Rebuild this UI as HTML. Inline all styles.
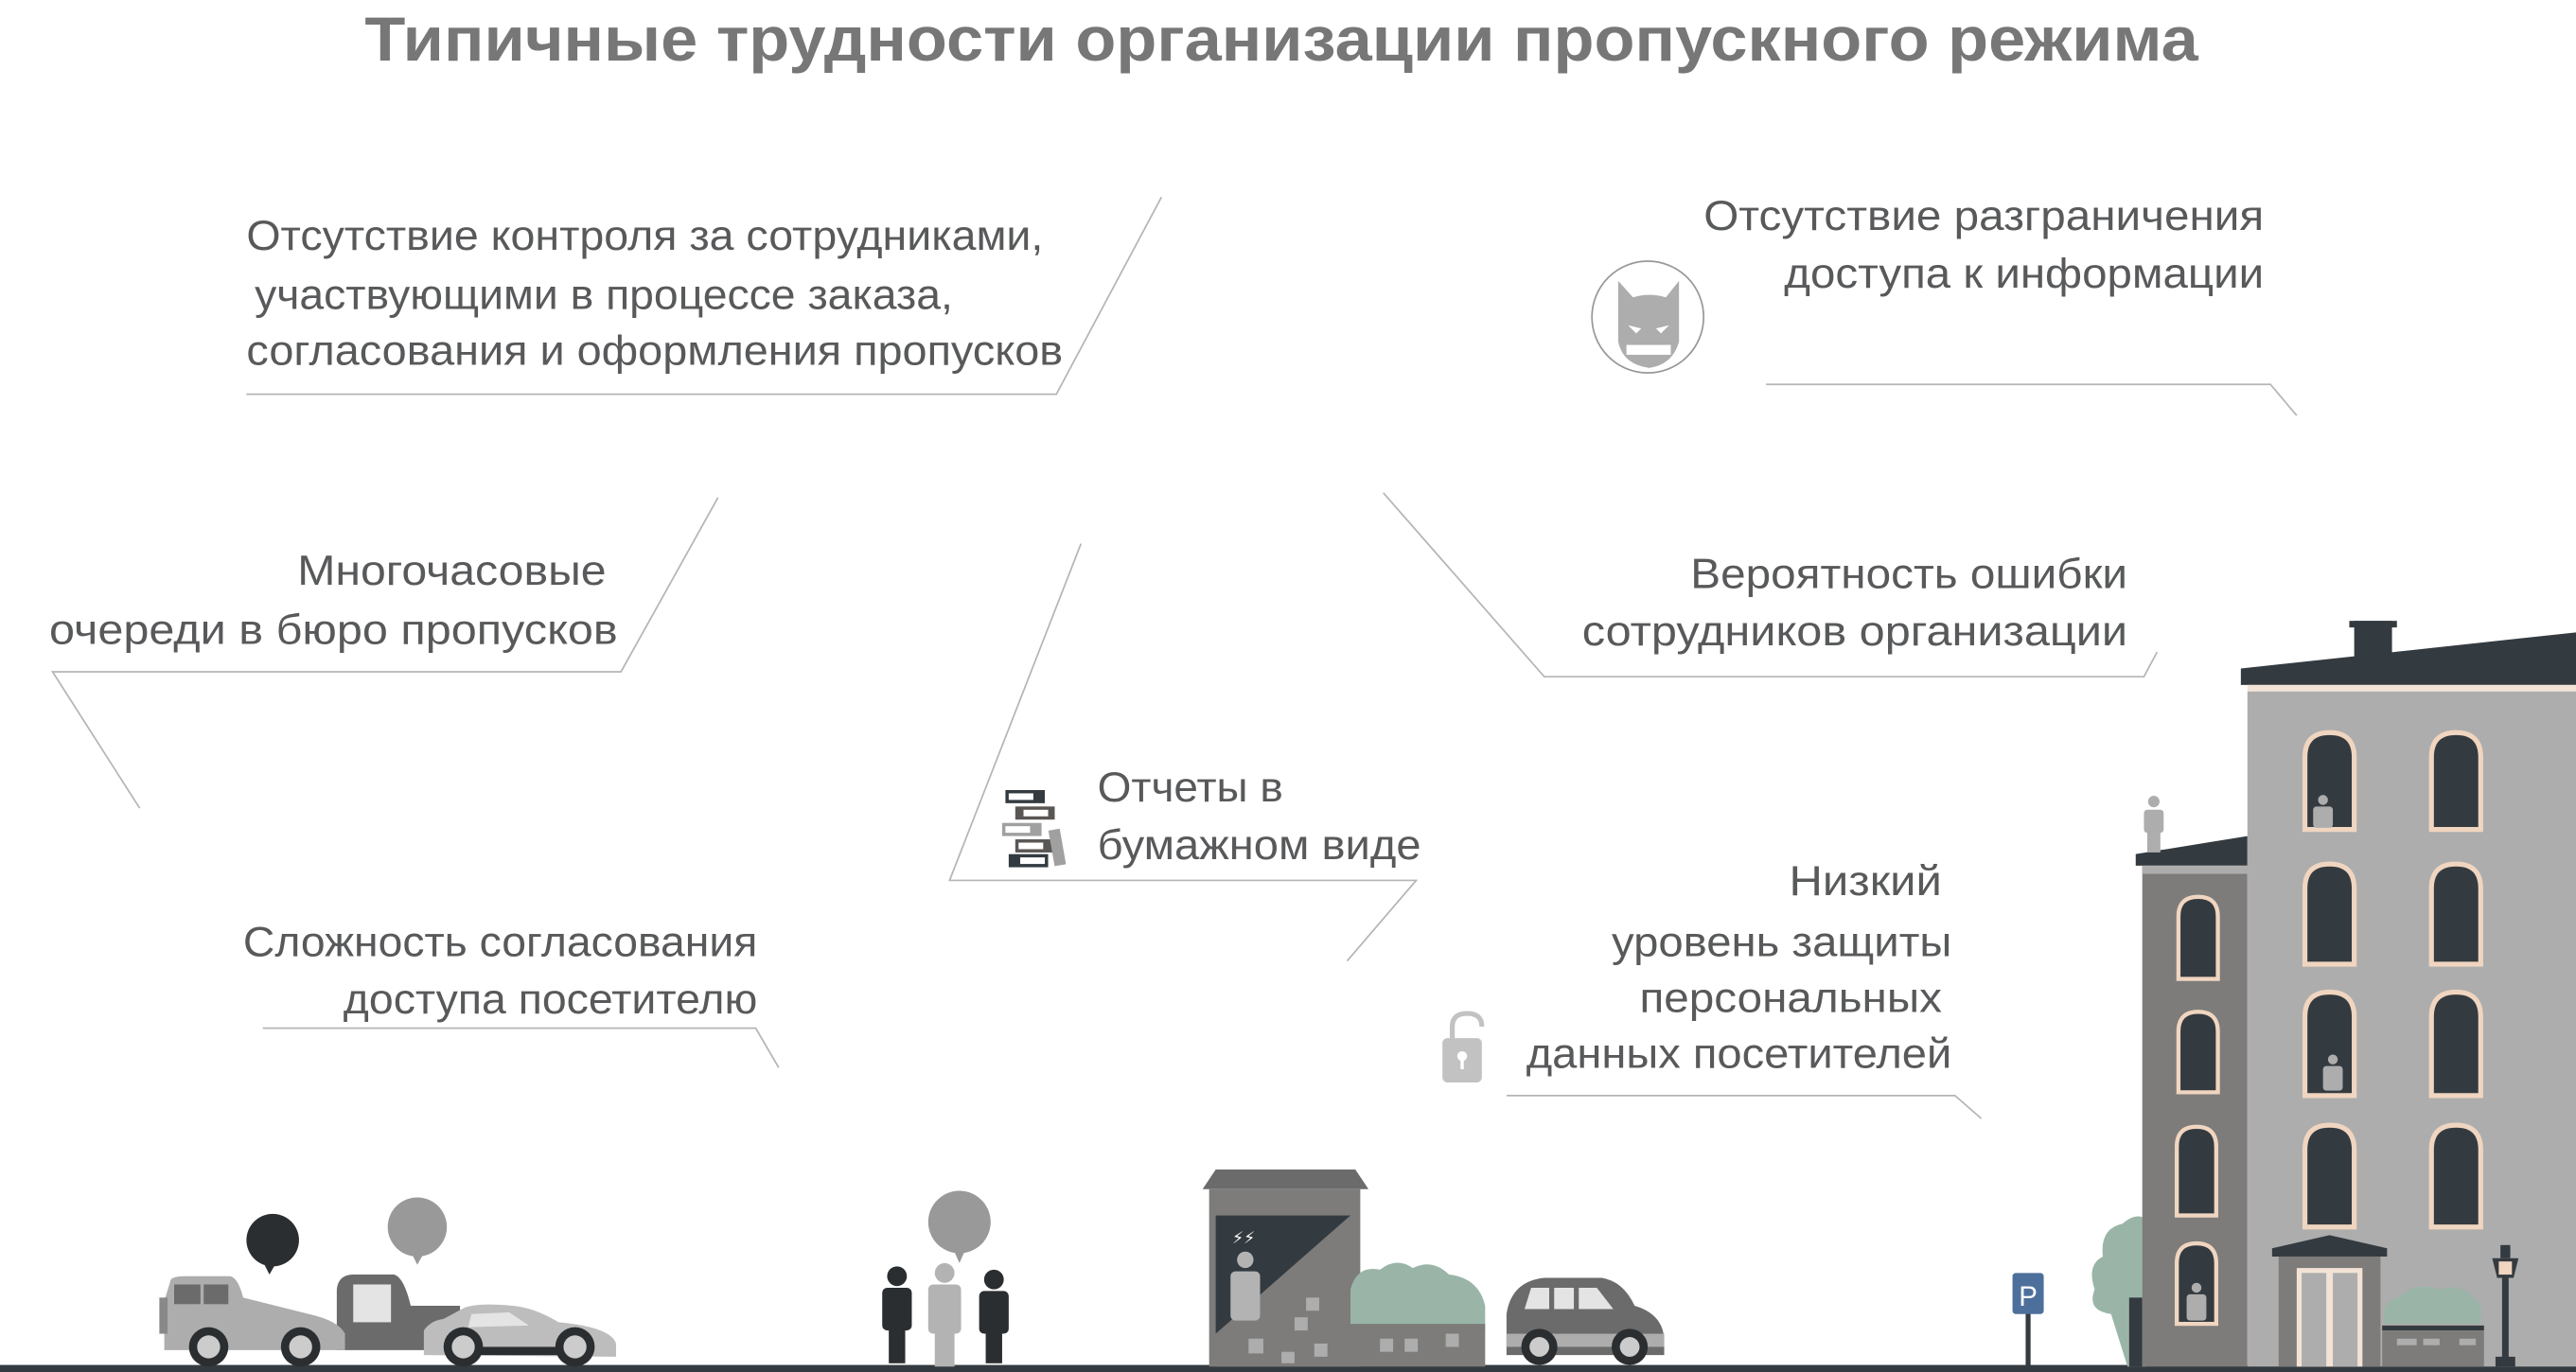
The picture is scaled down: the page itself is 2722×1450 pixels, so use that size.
<!DOCTYPE html>
<html><head><meta charset="utf-8"><style>
html,body{margin:0;padding:0;background:#fff;width:2722px;height:1450px;overflow:hidden}
svg{display:block}
text{font-family:"Liberation Sans","DejaVu Sans",sans-serif;fill:#58595b;font-size:25.5px}
</style></head><body>
<svg width="2722" height="1450" viewBox="0 0 1568 835.3" preserveAspectRatio="none" xmlns="http://www.w3.org/2000/svg">
<rect width="1568" height="836" fill="#fff"/>
<text x="222" y="37" textLength="1116" lengthAdjust="spacingAndGlyphs" style="font-size:38px;font-weight:bold;fill:#777">Типичные трудности организации пропускного режима</text>

<g fill="none" stroke="#b5b5b5" stroke-width="1">
<polyline points="707,120 643,240 150,240"/>
<polyline points="1075,234 1382,234 1398,253"/>
<polyline points="437,303 378,409 32,409 85,492"/>
<polyline points="842,300 940,412 1305,412 1313,397"/>
<polyline points="658,331 578,536 862,536 820,585"/>
<polyline points="160,626 460,626 474,650"/>
<polyline points="917,667 1190,667 1206,681"/>
</g>

<text x="150" y="152" textLength="485" lengthAdjust="spacingAndGlyphs">Отсутствие контроля за сотрудниками,</text>
<text x="155" y="188" textLength="425" lengthAdjust="spacingAndGlyphs">участвующими в процессе заказа,</text>
<text x="150" y="222" textLength="497" lengthAdjust="spacingAndGlyphs">согласования и оформления пропусков</text>

<text x="1037" y="140" textLength="341" lengthAdjust="spacingAndGlyphs">Отсутствие разграничения</text>
<text x="1086" y="175" textLength="292" lengthAdjust="spacingAndGlyphs">доступа к информации</text>

<text x="181" y="356" textLength="188" lengthAdjust="spacingAndGlyphs">Многочасовые</text>
<text x="30" y="392" textLength="346" lengthAdjust="spacingAndGlyphs">очереди в бюро пропусков</text>

<text x="1029" y="358" textLength="266" lengthAdjust="spacingAndGlyphs">Вероятность ошибки</text>
<text x="963" y="393" textLength="332" lengthAdjust="spacingAndGlyphs">сотрудников организации</text>

<text x="668" y="488" textLength="113" lengthAdjust="spacingAndGlyphs">Отчеты в</text>
<text x="668" y="523" textLength="197" lengthAdjust="spacingAndGlyphs">бумажном виде</text>

<text x="148" y="582" textLength="313" lengthAdjust="spacingAndGlyphs">Сложность согласования</text>
<text x="209" y="617" textLength="252" lengthAdjust="spacingAndGlyphs">доступа посетителю</text>

<text x="1089" y="545" textLength="93" lengthAdjust="spacingAndGlyphs">Низкий</text>
<text x="981" y="582" textLength="207" lengthAdjust="spacingAndGlyphs">уровень защиты</text>
<text x="998" y="616" textLength="184" lengthAdjust="spacingAndGlyphs">персональных</text>
<text x="929" y="650" textLength="259" lengthAdjust="spacingAndGlyphs">данных посетителей</text>

<!-- batman icon -->
<circle cx="1003" cy="193" r="34" fill="none" stroke="#999" stroke-width="1"/>
<path d="M985,171 L994,181 Q1004,178 1014,181 L1022,171 L1022,208 Q1018,222 1004,224 Q988,222 985,208 Z" fill="#adadad"/>
<path d="M991,198 L999,200 L996,203 Z M1016,198 L1008,200 L1011,203 Z" fill="#fff"/>
<rect x="990" y="210" width="27" height="6" fill="#fff"/>

<!-- binders -->
<g>
<rect x="612" y="481" width="24" height="8" fill="#343b40"/><rect x="614" y="483" width="15" height="4" fill="#fff"/>
<rect x="618" y="491" width="24" height="8" fill="#5a5654"/><rect x="623" y="493" width="15" height="4" fill="#fff"/>
<rect x="610" y="501" width="24" height="8" fill="#a0a0a0"/><rect x="612" y="503" width="15" height="4" fill="#fff"/>
<rect x="618" y="511" width="24" height="8" fill="#5a5654"/><rect x="620" y="513" width="15" height="4" fill="#fff"/>
<rect x="614" y="520" width="24" height="8" fill="#343b40"/><rect x="621" y="522" width="15" height="4" fill="#fff"/>
<rect x="640" y="505" width="7" height="22" fill="#a0a0a0" transform="rotate(-10 643 516)"/>
</g>

<!-- lock -->
<path d="M884,632 L884,625 Q884,617 893,617 Q902,617 902,625" fill="none" stroke="#c2c2c2" stroke-width="3"/>
<rect x="878" y="632" width="24" height="27" rx="3" fill="#c2c2c2"/>
<circle cx="890" cy="643" r="3" fill="#fff"/><rect x="889" y="644" width="2" height="7" fill="#fff"/>

<!-- ground -->
<rect x="0" y="831" width="1568" height="5" fill="#343b40"/>

<!-- cars left -->
<circle cx="166" cy="755" r="16" fill="#2b2e30"/><path d="M160,768 L164,776 L168,769Z" fill="#2b2e30"/>
<circle cx="254" cy="747" r="18" fill="#999"/><path d="M250,762 L254,770 L258,763Z" fill="#999"/>
<path d="M205,822 L205,785 Q206,776 215,776 L240,776 Q246,778 250,795 L280,795 L280,822Z" fill="#6b6b6b"/>
<rect x="215" y="782" width="23" height="23" fill="#e4e4e4"/>
<path d="M100,822 L100,792 L104,779 Q106,777 112,777 L140,777 Q145,778 148,790 L188,800 Q206,804 210,812 L210,822Z" fill="#adadad"/>
<rect x="106" y="782" width="16" height="12" fill="#6b6b6b"/><rect x="124" y="782" width="15" height="12" fill="#6b6b6b"/>
<rect x="97" y="790" width="5" height="22" fill="#888"/>
<circle cx="127" cy="820" r="12" fill="#2b2e30"/><circle cx="127" cy="820" r="7" fill="#ccc"/>
<circle cx="183" cy="820" r="12" fill="#2b2e30"/><circle cx="183" cy="820" r="7" fill="#ccc"/>
<path d="M258,825 L258,810 Q262,804 270,803 L283,796 Q292,793 312,795 Q325,796 340,805 Q372,808 375,818 L375,826Z" fill="#bdbdbd"/>
<path d="M287,800 L310,799 L322,807 L285,808Z" fill="#e4e4e4"/>
<rect x="280" y="820" width="75" height="5" fill="#2b2e30"/>
<circle cx="282" cy="820" r="12" fill="#2b2e30"/><circle cx="282" cy="820" r="7" fill="#ccc"/>
<circle cx="350" cy="820" r="12" fill="#2b2e30"/><circle cx="350" cy="820" r="7" fill="#ccc"/>

<!-- people -->
<circle cx="584" cy="744" r="19" fill="#999"/><path d="M580,760 L584,769 L588,760Z" fill="#999"/>
<g fill="#2b2e30">
<circle cx="546" cy="777" r="6"/><rect x="537" y="784" width="18" height="26" rx="3"/><rect x="541" y="808" width="10" height="22"/>
<circle cx="605" cy="779" r="6"/><rect x="596" y="786" width="18" height="26" rx="3"/><rect x="600" y="810" width="10" height="20"/>
</g>
<g fill="#b3b3b3"><circle cx="575" cy="775" r="6"/><rect x="565" y="782" width="20" height="30" rx="3"/><rect x="569" y="810" width="12" height="22"/></g>

<!-- booth -->
<path d="M732,724 L740,712 L825,712 L833,724Z" fill="#6b6b6b"/>
<rect x="736" y="724" width="92" height="108" fill="#7d7c7a"/>
<rect x="740" y="740" width="82" height="72" fill="#343b40"/>
<path d="M740,812 L822,740 L822,832 L740,832Z" fill="#7d7c7a"/>
<g fill="#adadad"><rect x="795" y="790" width="8" height="8"/><rect x="788" y="802" width="8" height="8"/><rect x="760" y="815" width="9" height="9"/><rect x="780" y="823" width="8" height="7"/><rect x="800" y="818" width="8" height="8"/></g>
<circle cx="758" cy="767" r="5" fill="#b3b3b3"/><rect x="749" y="774" width="18" height="30" rx="3" fill="#b3b3b3"/>
<text x="750" y="757" style="font-size:10px;fill:#fff">⚡⚡</text>
<path d="M822,812 L822,785 Q826,770 840,773 Q850,765 860,772 Q872,766 882,776 Q900,778 904,795 L904,812Z" fill="#9ab5a8"/>
<rect x="822" y="806" width="82" height="26" fill="#7d7c7a"/>
<g fill="#adadad"><rect x="840" y="815" width="8" height="8"/><rect x="855" y="815" width="8" height="8"/><rect x="880" y="812" width="8" height="8"/></g>

<!-- hatchback -->
<path d="M917,825 L917,800 Q920,780 940,778 L975,778 Q988,780 995,795 Q1012,800 1013,815 L1013,825Z" fill="#6b6b6b"/>
<path d="M928,797 L932,784 L972,784 L982,797Z" fill="#e4e4e4"/>
<rect x="943" y="784" width="3" height="13" fill="#6b6b6b"/><rect x="958" y="784" width="3" height="13" fill="#6b6b6b"/>
<rect x="917" y="812" width="96" height="8" fill="#adadad"/>
<circle cx="937" cy="820" r="11" fill="#2b2e30"/><circle cx="937" cy="820" r="6" fill="#ccc"/>
<circle cx="992" cy="820" r="11" fill="#2b2e30"/><circle cx="992" cy="820" r="6" fill="#ccc"/>

<!-- parking sign -->
<rect x="1233" y="795" width="3" height="37" fill="#343b40"/>
<rect x="1225" y="775" width="19" height="25" rx="2" fill="#4d6f9b"/>
<text x="1234.5" y="795" text-anchor="middle" style="font-size:17px;fill:#fff">P</text>

<!-- tree -->
<path d="M1295,832 L1285,800 Q1270,798 1275,785 Q1270,770 1280,765 Q1278,748 1292,745 Q1300,738 1306,742 L1306,832Z" fill="#9ab5a8"/>
<rect x="1296" y="790" width="8" height="42" fill="#343b40"/>

<!-- left wing -->
<path d="M1300,520 L1368,509 L1368,527 L1300,527Z" fill="#343b40"/>
<rect x="1304" y="527" width="64" height="305" fill="#7d7c7a"/>
<rect x="1304" y="527" width="64" height="5" fill="#adadad"/>
<g fill="#343b40" stroke="#f0d5c0" stroke-width="2.5">
<path d="M1326,596 L1326,558 Q1326,546 1338,546 Q1350,546 1350,558 L1350,596Z"/>
<path d="M1326,665 L1326,628 Q1326,616 1338,616 Q1350,616 1350,628 L1350,665Z"/>
<path d="M1325,740 L1325,698 Q1325,686 1337,686 Q1349,686 1349,698 L1349,740Z"/>
<path d="M1325,806 L1325,769 Q1325,757 1337,757 Q1349,757 1349,769 L1349,806Z"/>
</g>
<g fill="#adadad"><circle cx="1337" cy="784" r="3"/><rect x="1331" y="788" width="12" height="16" rx="2"/></g>
<g fill="#adadad"><circle cx="1311" cy="488" r="3.5"/><rect x="1305" y="493" width="12" height="14" rx="2"/><rect x="1307" y="505" width="8" height="14"/></g>

<!-- main building -->
<path d="M1364,407 L1568,385 L1568,417 L1364,417Z" fill="#343b40"/>
<rect x="1433" y="378" width="23" height="28" fill="#343b40"/>
<rect x="1430" y="378" width="29" height="4" fill="#343b40"/>
<rect x="1368" y="417" width="200" height="4" fill="#f3e3d6"/>
<rect x="1368" y="421" width="200" height="411" fill="#adadad"/>
<g fill="#343b40" stroke="#f0d5c0" stroke-width="3">
<path d="M1403,505 L1403,461 Q1403,446 1418,446 Q1433,446 1433,461 L1433,505Z"/>
<path d="M1480,505 L1480,461 Q1480,446 1495,446 Q1510,446 1510,461 L1510,505Z"/>
<path d="M1403,587 L1403,541 Q1403,526 1418,526 Q1433,526 1433,541 L1433,587Z"/>
<path d="M1480,587 L1480,541 Q1480,526 1495,526 Q1510,526 1510,541 L1510,587Z"/>
<path d="M1403,667 L1403,619 Q1403,604 1418,604 Q1433,604 1433,619 L1433,667Z"/>
<path d="M1480,667 L1480,619 Q1480,604 1495,604 Q1510,604 1510,619 L1510,667Z"/>
<path d="M1403,747 L1403,700 Q1403,685 1418,685 Q1433,685 1433,700 L1433,747Z"/>
<path d="M1480,747 L1480,700 Q1480,685 1495,685 Q1510,685 1510,700 L1510,747Z"/>
</g>
<g fill="#adadad">
<circle cx="1414" cy="487" r="3"/><rect x="1408" y="491" width="12" height="13" rx="2"/>
<circle cx="1420" cy="645" r="3"/><rect x="1414" y="649" width="12" height="15" rx="2"/>
</g>
<!-- entrance -->
<path d="M1383,760 L1418,752 L1453,760 L1453,765 L1383,765Z" fill="#343b40"/>
<rect x="1387" y="765" width="62" height="67" fill="#7d7c7a"/>
<rect x="1398" y="772" width="40" height="60" fill="#f3e3d6"/>
<rect x="1401" y="775" width="15" height="57" fill="#adadad"/><rect x="1420" y="775" width="15" height="57" fill="#adadad"/>
<!-- bush and wall -->
<path d="M1452,806 Q1448,792 1460,790 Q1470,780 1485,785 Q1500,780 1510,795 L1510,806Z" fill="#9ab5a8"/>
<rect x="1450" y="807" width="62" height="3" fill="#343b40"/>
<rect x="1450" y="810" width="62" height="22" fill="#7d7c7a"/>
<g fill="#adadad"><rect x="1459" y="815" width="12" height="4"/><rect x="1475" y="815" width="10" height="4"/><rect x="1497" y="815" width="10" height="4"/></g>
<!-- lamp -->
<rect x="1523" y="775" width="4" height="52" fill="#343b40"/>
<path d="M1517,766 L1533,766 L1530,778 L1520,778Z" fill="#343b40"/>
<rect x="1521" y="768" width="8" height="8" fill="#f0d5c0"/>
<rect x="1522" y="758" width="6" height="8" fill="#343b40"/>
<rect x="1519" y="826" width="12" height="6" fill="#343b40"/>
</svg>
</body></html>
